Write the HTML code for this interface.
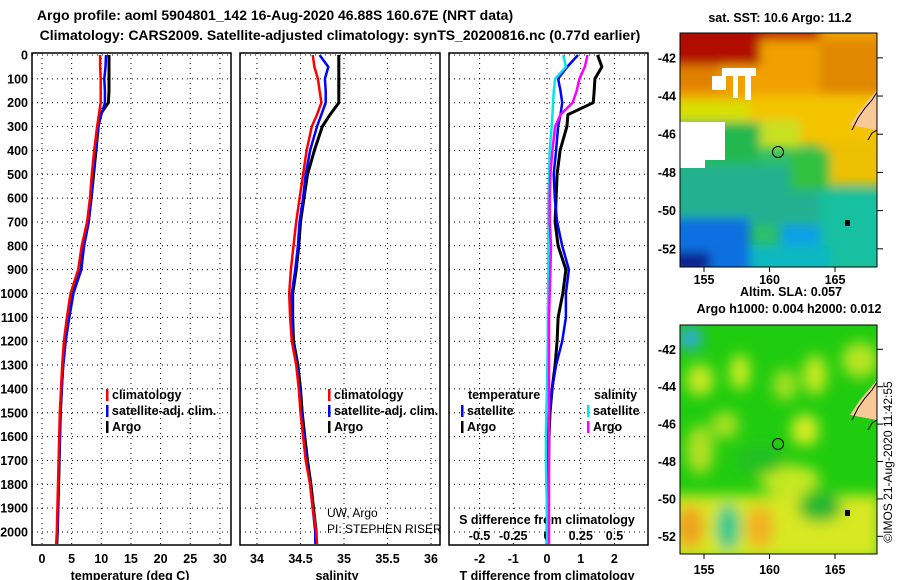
<!DOCTYPE html>
<html><head><meta charset="utf-8">
<style>
html,body{margin:0;padding:0;background:#fff;}
svg{display:block;font-family:"Liberation Sans",sans-serif;}
.b{font-weight:bold;font-size:12.5px;fill:#000;}
.t{font-weight:bold;font-size:14px;fill:#000;}
</style></head>
<body>
<svg id="fig" width="900" height="580" viewBox="0 0 900 580" xmlns="http://www.w3.org/2000/svg">
<defs>
<filter id="bl" x="-10%" y="-10%" width="120%" height="120%"><feGaussianBlur stdDeviation="5"/></filter>
<filter id="bl2" x="-10%" y="-10%" width="120%" height="120%"><feGaussianBlur stdDeviation="7"/></filter>
<clipPath id="c1"><rect x="680" y="33" width="197" height="234"/></clipPath>
<clipPath id="c2"><rect x="680" y="325" width="197" height="229"/></clipPath>
</defs>
<text class="t" x="275" y="20" text-anchor="middle">Argo profile: aoml 5904801_142 16-Aug-2020 46.88S 160.67E (NRT data)</text>
<text class="t" x="340" y="40" text-anchor="middle">Climatology: CARS2009. Satellite-adjusted climatology: synTS_20200816.nc (0.77d earlier)</text>
<g id="panels"></g>

<!-- SST map -->
<g>
<text class="b" x="780" y="22" text-anchor="middle">sat. SST: 10.6 Argo: 11.2</text>
<g clip-path="url(#c1)">
<rect x="680" y="33" width="197" height="234" fill="#2fbf6a"/>
<g filter="url(#bl)">
<rect x="670" y="25" width="220" height="85" fill="#f0a000"/>
<rect x="670" y="25" width="90" height="40" fill="#b01000"/>
<rect x="760" y="25" width="60" height="15" fill="#c02000"/>
<rect x="670" y="65" width="50" height="25" fill="#e08000"/>
<rect x="820" y="40" width="70" height="60" fill="#e08800"/>
<rect x="670" y="100" width="90" height="22" fill="#d8e000"/>
<rect x="750" y="95" width="140" height="50" fill="#f4c400"/>
<rect x="820" y="140" width="70" height="45" fill="#ecc000"/>
<rect x="760" y="120" width="40" height="28" fill="#c8e020"/>
<rect x="670" y="122" width="90" height="40" fill="#20b850"/>
<rect x="670" y="165" width="150" height="60" fill="#20b090"/>
<rect x="820" y="190" width="70" height="80" fill="#18c0a0"/>
<rect x="790" y="150" width="40" height="40" fill="#30c040"/>
<rect x="670" y="218" width="80" height="60" fill="#1070e0"/>
<rect x="670" y="252" width="40" height="20" fill="#102090"/>
<rect x="780" y="225" width="40" height="30" fill="#10a0e8"/>
<rect x="750" y="245" width="80" height="30" fill="#10b8c0"/>
</g>
<rect x="680" y="122" width="45" height="38" fill="#fff"/>
<rect x="680" y="140" width="25" height="28" fill="#fff"/>
<rect x="722" y="68" width="34" height="8" fill="#fff"/>
<rect x="712" y="76" width="14" height="14" fill="#fff"/>
<rect x="733" y="76" width="5" height="22" fill="#fff"/>
<rect x="745" y="76" width="6" height="24" fill="#fff"/>
<polygon points="877,90 860,110 850,125 877,130" fill="#f8c898"/>
<polyline points="852,130 858,118 865,108 872,100 877,92" fill="none" stroke="#000" stroke-width="1"/>
<polyline points="868,140 872,133 877,130" fill="none" stroke="#000" stroke-width="1"/>
<rect x="845" y="220" width="5" height="6" fill="#000"/>
</g>
<rect x="680" y="33" width="197" height="234" fill="none" stroke="#000"/>
<circle cx="778" cy="152" r="5.5" fill="none" stroke="#000"/>
<g id="map1ticks"></g>
</g>

<!-- SLA map -->
<g>
<text class="b" x="791" y="296" text-anchor="middle">Altim. SLA: 0.057</text>
<text class="b" x="789" y="313" text-anchor="middle">Argo h1000: 0.004 h2000: 0.012</text>
<g clip-path="url(#c2)">
<rect x="680" y="325" width="197" height="229" fill="#20cc10"/>
<g filter="url(#bl2)">
<ellipse cx="690" cy="338" rx="12" ry="12" fill="#30a8e0"/>
<ellipse cx="700" cy="380" rx="14" ry="16" fill="#c8e820"/>
<ellipse cx="740" cy="372" rx="10" ry="18" fill="#d0ec20"/>
<ellipse cx="785" cy="385" rx="12" ry="16" fill="#a8e020"/>
<ellipse cx="815" cy="375" rx="12" ry="20" fill="#c8e820"/>
<ellipse cx="860" cy="360" rx="18" ry="18" fill="#b8e420"/>
<ellipse cx="725" cy="425" rx="14" ry="14" fill="#a8e020"/>
<ellipse cx="805" cy="430" rx="14" ry="16" fill="#d8ec20"/>
<ellipse cx="700" cy="450" rx="14" ry="25" fill="#b0e020"/>
<ellipse cx="790" cy="480" rx="30" ry="15" fill="#c8e820"/>
<rect x="670" y="495" width="210" height="65" fill="#d8e820"/>
<ellipse cx="690" cy="527" rx="14" ry="22" fill="#f0a020"/>
<ellipse cx="760" cy="527" rx="14" ry="22" fill="#f0b020"/>
<ellipse cx="728" cy="527" rx="12" ry="24" fill="#20c890"/>
<ellipse cx="820" cy="507" rx="22" ry="15" fill="#20b830"/>
<ellipse cx="760" cy="460" rx="25" ry="15" fill="#20c020"/>
</g>
<polygon points="877,380 860,400 850,415 877,420" fill="#f8c898"/>
<polyline points="852,420 858,408 865,398 872,390 877,382" fill="none" stroke="#000" stroke-width="1"/>
<polyline points="868,430 872,423 877,420" fill="none" stroke="#000" stroke-width="1"/>
<rect x="845" y="510" width="5" height="6" fill="#000"/>
</g>
<rect x="680" y="325" width="197" height="229" fill="none" stroke="#000"/>
<circle cx="778" cy="444" r="5.5" fill="none" stroke="#000"/>
<g id="map2ticks"></g>
</g>
<text x="892" y="462" transform="rotate(-90 892 462)" text-anchor="middle" font-size="12" fill="#000">©IMOS 21-Aug-2020 11:42:55</text>
</svg>
<script>
// ---- data ----
const depths   = [0,50,100,150,200,250,300,400,500,600,700,800,900,1000,1100,1200,1300,1400,1500,1600,1700,1800,1900,2000,2050];
const tempClim = [9.8,9.8,9.9,9.9,9.9,9.6,9.3,8.8,8.4,8.1,7.6,6.7,6.1,4.8,4.2,3.7,3.4,3.2,3.0,2.9,2.8,2.7,2.6,2.5,2.4];
const tempSat  = [10.8,10.7,10.5,10.6,10.6,10.0,9.5,9.0,8.6,8.3,7.9,7.1,6.6,5.3,4.6,4.0,3.6,3.3,3.1,3.0,2.9,2.8,2.7,2.6,2.5];
const tempArgo = [11.3,11.3,11.3,11.3,11.2,9.8,9.5,9.1,8.7,8.3,7.8,7.0,6.6,5.2,4.5,3.9,3.5,3.3,3.1,3.0,2.9,2.8,2.7,2.6,2.5];
const salClim  = [34.64,34.66,34.70,34.72,34.74,34.69,34.63,34.57,34.53,34.49,34.45,34.42,34.39,34.37,34.38,34.40,34.45,34.48,34.50,34.53,34.56,34.61,34.64,34.68,34.69];
const salSat   = [34.72,34.82,34.78,34.79,34.79,34.74,34.69,34.61,34.56,34.53,34.49,34.47,34.44,34.40,34.40,34.41,34.46,34.49,34.51,34.54,34.57,34.61,34.64,34.67,34.67];
const salArgo  = [34.94,34.94,34.94,34.94,34.94,34.84,34.75,34.66,34.58,34.54,34.50,34.48,34.45,34.41,34.41,34.42,34.47,34.50,34.52,34.55,34.58,34.62,34.65,34.68,34.68];
const dTSat    = [0.92,0.6,0.33,0.4,0.45,0.4,0.33,0.27,0.2,0.23,0.3,0.45,0.65,0.56,0.56,0.45,0.27,0.15,0.06,0.03,0.02,0.01,0.0,0.0,0.0];
const dTArgo   = [1.5,1.63,1.42,1.4,1.37,0.62,0.59,0.39,0.3,0.27,0.24,0.33,0.56,0.47,0.33,0.3,0.24,0.15,0.09,0.06,0.05,0.04,0.02,0.0,0.0];
const dSSat    = [0.12,0.14,0.06,0.05,0.045,0.04,0.035,0.02,0.015,0.01,0.01,0.01,0.01,0.008,0.006,0.005,0.003,0.0,-0.005,-0.008,-0.008,-0.005,0.0,0.0,0.0];
const dSArgo   = [0.30,0.28,0.24,0.22,0.19,0.10,0.06,0.04,0.025,0.02,0.02,0.03,0.025,0.02,0.015,0.015,0.015,0.015,0.015,0.015,0.015,0.015,0.015,0.015,0.015];
const depthTicks = [0,100,200,300,400,500,600,700,800,900,1000,1100,1200,1300,1400,1500,1600,1700,1800,1900,2000];
const tempTicks = [0,5,10,15,20,25,30];
const salTicks  = [34,34.5,35,35.5,36];
const salTickLabels = ["34","34.5","35","35.5","36"];
const dTTicks   = [-2,-1,0,1,2];
const dSTicks   = [-0.5,-0.25,0,0.25,0.5];
const dSTickLabels = ["-0.5","-0.25","0","0.25","0.5"];
const latTicks = [-42,-44,-46,-48,-50,-52];
const lonTicks = [155,160,165];

const NS="http://www.w3.org/2000/svg";
const root=document.getElementById('panels');
function mk(tag,attrs,parent){const e=document.createElementNS(NS,tag);for(const k in attrs)e.setAttribute(k,attrs[k]);(parent||root).appendChild(e);return e;}
const Y0=55, PY=23.85, TOP=53, BOT=545;
const yD=d=>Y0+d*PY/100;
const xT=v=>42+v*5.93;
const xS=v=>257+(v-34)*87;
const xDT=v=>547+v*33.7;
const xDS=v=>547+v*135;

const panels=[{x0:32,x1:231},{x0:240,x1:440},{x0:449,x1:648}];
panels.forEach((p,i)=>{
  const f=mk('rect',{x:p.x0,y:TOP,width:p.x1-p.x0,height:BOT-TOP,fill:'none',stroke:'#000','stroke-width':1.5});
  
  
  depthTicks.forEach(d=>{
    const y=yD(d);
    const g=mk('line',{x1:p.x0,x2:p.x1,y1:y,y2:y,stroke:'#000','stroke-width':1,'stroke-dasharray':'1,4'});
    
    
  });
});
depthTicks.forEach(d=>{
  const t=mk('text',{x:28,y:yD(d)+4.5,'text-anchor':'end',class:'b'});
  t.textContent=d;
  
  
});
function vgrid(ticks,fx,labels,ly){
  ticks.forEach((v,i)=>{
    const x=fx(v);
    const g=mk('line',{x1:x,x2:x,y1:TOP,y2:BOT,stroke:'#000','stroke-width':1,'stroke-dasharray':'1,4'});
    
    
    const t=mk('text',{x:x,y:ly,'text-anchor':'middle',class:'b'});
    t.textContent=labels?labels[i]:v;
    
    
  });
}
vgrid(tempTicks,xT,null,563);
vgrid(salTicks,xS,salTickLabels,563);
vgrid(dTTicks,xDT,null,563);
dSTicks.forEach((v,i)=>{
  const t=mk('text',{x:xDS(v),y:540,'text-anchor':'middle',class:'b'});
  t.textContent=dSTickLabels[i];
  
  
});
function axl(txt,x,name){const t=mk('text',{x:x,y:580,'text-anchor':'middle',class:'b'});t.textContent=txt;}
axl('temperature (deg C)',130,'temperature-axis-title');
axl('salinity',337,'salinity-axis-title');
axl('T difference from climatology',547,'t-diff-axis-title');
{const t=mk('text',{x:547,y:524,'text-anchor':'middle',class:'b'});t.textContent='S difference from climatology';}

function series(vals,fx,color,name,w){
  const pts=vals.map((v,i)=>fx(v).toFixed(1)+','+yD(depths[i]).toFixed(1)).join(' ');
  const l=mk('polyline',{points:pts,fill:'none',stroke:color,'stroke-width':w||2.5,'stroke-linejoin':'round'});
  
  
}
series(tempArgo,xT,'#000','temp-argo-line',3);
series(tempSat,xT,'#0000ff','temp-satellite-line');
series(tempClim,xT,'#ff0000','temp-climatology-line');
series(salArgo,xS,'#000','sal-argo-line',3);
series(salSat,xS,'#0000ff','sal-satellite-line');
series(salClim,xS,'#ff0000','sal-climatology-line');
series(dTArgo,xDT,'#000','tdiff-argo-line',3);
series(dTSat,xDT,'#0000ff','tdiff-satellite-line');
series(dSSat,xDS,'#00e8e8','sdiff-satellite-line');
series(dSArgo,xDS,'#ff00ff','sdiff-argo-line');

function leg(x,y,color,txt){
  const m=mk('rect',{x:x,y:y-10,width:2.5,height:12,fill:color});
  
  
  const t=mk('text',{x:x+6,y:y,class:'b'});
  t.textContent=txt;
  
  
}
leg(106,399,'#ff0000','climatology');leg(106,415,'#0000ff','satellite-adj. clim.');leg(106,431,'#000','Argo');
leg(328,399,'#ff0000','climatology');leg(328,415,'#0000ff','satellite-adj. clim.');leg(328,431,'#000','Argo');
{const t=mk('text',{x:468,y:399,class:'b'});t.textContent='temperature';}
{const t=mk('text',{x:594,y:399,class:'b'});t.textContent='salinity';}
leg(461,415,'#0000ff','satellite');leg(461,431,'#000','Argo');
leg(587,415,'#00e8e8','satellite');leg(587,431,'#ff00ff','Argo');
{const t=mk('text',{x:327,y:517,'font-size':'12',fill:'#000'});t.textContent='UW, Argo';}
{const t=mk('text',{x:327,y:533,'font-size':'12',fill:'#000'});t.textContent='PI: STEPHEN RISER';}

function mapTicks(gid,top,bot,degPx,lonY){
  const g=document.getElementById(gid);
  latTicks.forEach(la=>{
    const y=top+(-40.7-la)*degPx;
    const l=mk('line',{x1:877,x2:883,y1:y,y2:y,stroke:'#000'},g);
    
    
    const t=mk('text',{x:676,y:y+4.5,'text-anchor':'end',class:'b'},g);
    t.textContent=la;
    
    
  });
  lonTicks.forEach(lo=>{
    const x=704+(lo-155)*13.1;
    const l=mk('line',{x1:x,x2:x,y1:bot,y2:bot+5,stroke:'#000'},g);
    
    
    const t=mk('text',{x:x,y:lonY,'text-anchor':'middle',class:'b'},g);
    t.textContent=lo;
    
    
  });
}
mapTicks('map1ticks',33,267,19.1,284);
mapTicks('map2ticks',325,554,18.7,574);
</script>
</body></html>
